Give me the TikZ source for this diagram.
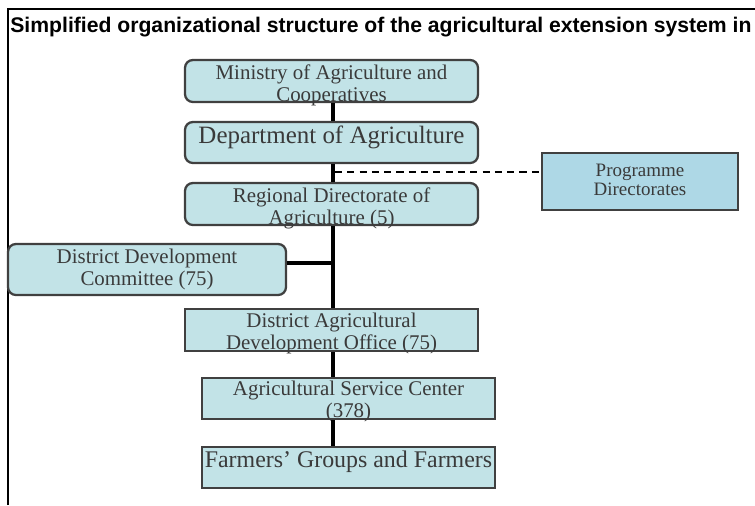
\documentclass[tikz,border=0pt]{standalone}
\usepackage{fontspec}
\setmainfont{Liberation Serif}
\newfontfamily\titlefont{Liberation Sans}
\definecolor{boxfill}{HTML}{C2E3E7}
\definecolor{progfill}{HTML}{AED8E6}
\definecolor{boxline}{HTML}{404040}
\definecolor{txt}{HTML}{3A3A3A}
\begin{document}
\begin{tikzpicture}[x=0.02cm,y=-0.02cm,
  base/.style={draw=boxline, line width=1.3pt, fill=boxfill, inner sep=0pt},
  rbox/.style={base, rounded corners=4.5pt},
  sbox/.style={base},
  pbox/.style={base, fill=progfill},
  btext/.style={text=txt, inner sep=0pt, align=center, font=\fontsize{11.9}{12.5}\selectfont},
  link/.style={line width=2.3pt, black},
  side/.style={line width=1.8pt, black},
  dashline/.style={line width=0.9pt, black, dash pattern=on 4pt off 3pt}]
\useasboundingbox (0,0) rectangle (755,505);
\fill[white] (0,0) rectangle (755,505);
% frame
\draw[line width=1.4pt, black] (8,505) -- (8,9) -- (755,9);
% title
\node[anchor=west, inner sep=0pt, font=\titlefont\bfseries\fontsize{12.05}{13}\selectfont] (title) at (10,27.5)
  {Simplified organizational structure of the agricultural extension system in};
% boxes
\node[rbox, minimum width=293*0.02cm, minimum height=42*0.02cm] (min) at (331.5,81) {};
\node[rbox, minimum width=293*0.02cm, minimum height=41*0.02cm] (dept) at (331.5,142.5) {};
\node[rbox, minimum width=293*0.02cm, minimum height=42*0.02cm] (reg) at (331.5,204) {};
\node[pbox, minimum width=196*0.02cm, minimum height=57*0.02cm] (prog) at (640,181.5) {};
\node[rbox, minimum width=278*0.02cm, minimum height=51*0.02cm] (ddc) at (147,269.5) {};
\node[sbox, minimum width=293*0.02cm, minimum height=42*0.02cm] (dado) at (331.5,330) {};
\node[sbox, minimum width=293*0.02cm, minimum height=41*0.02cm] (asc) at (348.5,398.5) {};
\node[sbox, minimum width=293*0.02cm, minimum height=41*0.02cm] (farm) at (348.5,467.5) {};
% texts
\node[btext] (mint) at (331.5,85) {Ministry of Agriculture and\\Cooperatives};
\node[btext, font=\fontsize{14.2}{15}\selectfont] (deptt) at (331.5,137) {Department of Agriculture};
\node[btext] (regt) at (331.5,208.5) {Regional Directorate of\\Agriculture (5)};
\node[btext, font=\fontsize{10.8}{10.8}\selectfont] (progt) at (640,179.5) {Programme\\Directorates};
\node[btext] (ddct) at (147,269) {District Development\\Committee (75)};
\node[btext] (dadot) at (331.5,333) {District Agricultural\\Development Office (75)};
\node[btext] (asct) at (348.5,401) {Agricultural Service Center\\(378)};
\node[btext, font=\fontsize{13.6}{14}\selectfont] (farmt) at (348.5,462) {Farmers' Groups and Farmers};
% connectors
\draw[link] (min.south -| 333,0) -- (dept.north -| 333,0);
\draw[link] (dept.south -| 333,0) -- (reg.north -| 333,0);
\draw[link] (reg.south -| 333,0) -- (dado.north -| 333,0);
\draw[link] (dado.south -| 333,0) -- (asc.north -| 333,0);
\draw[link] (asc.south -| 333,0) -- (farm.north -| 333,0);
\coordinate (dj) at (335,172);
\draw[dashline] (dj) -- (dj -| prog.west);
\coordinate (cj) at (333,263);
\draw[side] (ddc.east |- cj) -- (cj);
\end{tikzpicture}
\end{document}
